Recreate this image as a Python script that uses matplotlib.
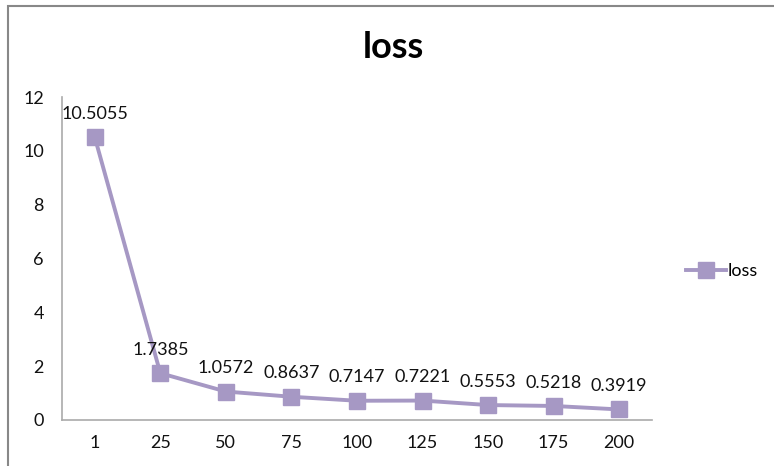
import matplotlib.pyplot as plt
from matplotlib.patches import Rectangle

epochs = ["1", "25", "50", "75", "100", "125", "150", "175", "200"]
loss = [10.5055, 1.7385, 1.0572, 0.8637, 0.7147, 0.7221, 0.5553, 0.5218, 0.3919]
y_ticks = [0, 2, 4, 6, 8, 10, 12]

LINE_COLOR = "#A698C4"
plt.rcParams["font.family"] = ["Lato", "DejaVu Sans"]

fig = plt.figure(figsize=(7.74, 4.66), dpi=100)
# chart area frame (only left and top edges fall inside the picture)
fig.patches.append(Rectangle((8 / 774, -0.1), 1.2, (1 - 6 / 466) + 0.1,
                             transform=fig.transFigure, fill=False,
                             edgecolor="#888888", linewidth=1.5))

ax = fig.add_axes([62 / 774, 1 - 420 / 466, 590 / 774, 323 / 466])
x = list(range(len(epochs)))
ax.plot(x, loss, color=LINE_COLOR, linewidth=2.8, marker="s", markersize=12, label="loss")
for xi, v in zip(x, loss):
    ax.annotate(f"{v:g}", (xi, v), xytext=(0, 11), textcoords="offset points",
                ha="center", va="bottom", fontsize=13, color="#111111")

ax.set_xlim(-0.5, len(epochs) - 0.5)
ax.set_ylim(0, 12)
ax.set_xticks(x)
ax.set_xticklabels(epochs)
ax.set_yticks(y_ticks)
ax.tick_params(length=0, labelsize=13, colors="#111111")
ax.tick_params(axis="x", pad=11)
ax.tick_params(axis="y", pad=13)
for side in ("top", "right"):
    ax.spines[side].set_visible(False)
for side in ("left", "bottom"):
    ax.spines[side].set_color("#AAAAAA")
    ax.spines[side].set_linewidth(1.2)

fig.text(393 / 774, 1 - 48 / 466, "loss", ha="center", va="center",
         fontsize=26, fontweight="bold")
ax.legend(loc="center left", bbox_to_anchor=(1.03, 0.46), frameon=False,
          fontsize=13, handlelength=2.2, handletextpad=0.1)

fig.savefig("out.png", dpi=100)
